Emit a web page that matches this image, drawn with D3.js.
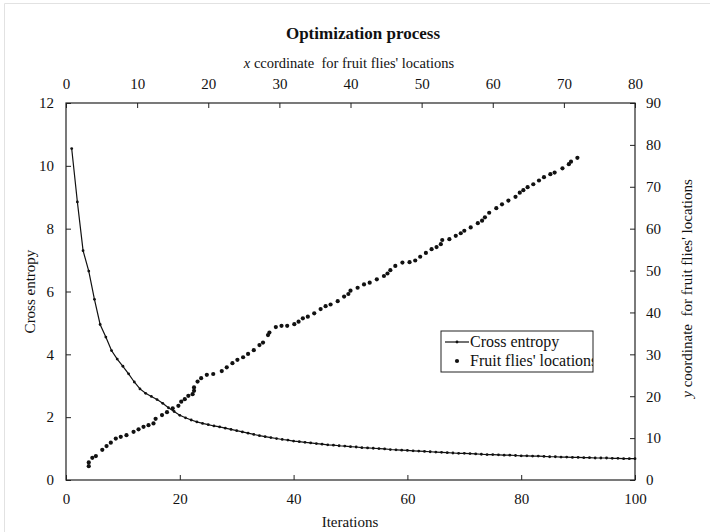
<!DOCTYPE html>
<html>
<head>
<meta charset="utf-8">
<script src="https://cdn.jsdelivr.net/npm/d3@7"></script>
<style>
    body { margin: 0; background: #fff; }
    svg text { font-family: "Liberation Serif", "Times New Roman", serif; fill: #111; }
    .axis text { font-size: 15px; }
    .axis line { stroke: #222; }
    .pre { white-space: pre; }
</style>
</head>
<body>
<svg></svg>
<script>
var margin = { top: 103, right: 75, bottom: 52, left: 66 },
    width = 710 - margin.left - margin.right,
    height = 532 - margin.top - margin.bottom;

// cross entropy per iteration (bottom / left axes)
var iterations = d3.range(1, 101);
var crossEntropy = [
    10.55, 8.85, 7.30, 6.65, 5.75, 4.95, 4.55, 4.12, 3.85, 3.62,
    3.38, 3.12, 2.90, 2.76, 2.66, 2.56, 2.44, 2.30, 2.18, 2.06,
    1.98, 1.91, 1.85, 1.80, 1.76, 1.72, 1.69, 1.65, 1.61, 1.57,
    1.53, 1.49, 1.45, 1.41, 1.38, 1.35, 1.32, 1.29, 1.27, 1.24,
    1.22, 1.20, 1.18, 1.16, 1.14, 1.12, 1.11, 1.09, 1.08, 1.06,
    1.05, 1.03, 1.02, 1.01, 1.00, 0.99, 0.97, 0.96, 0.95, 0.94,
    0.93, 0.92, 0.91, 0.90, 0.89, 0.88, 0.87, 0.86, 0.85, 0.85,
    0.84, 0.83, 0.82, 0.81, 0.81, 0.80, 0.79, 0.79, 0.78, 0.77,
    0.77, 0.76, 0.76, 0.75, 0.74, 0.74, 0.73, 0.73, 0.72, 0.72,
    0.71, 0.71, 0.70, 0.70, 0.70, 0.69, 0.69, 0.68, 0.68, 0.68
];

// fruit flies' locations (top / right axes)
var flyX = [
    3.2, 3.2, 3.7, 4.2, 5.1, 5.7, 6.3, 7.0, 7.7, 8.5,
    9.5, 10.2, 10.9, 11.6, 12.3, 12.6, 13.5, 14.2, 15.0, 15.8,
    16.2, 16.7, 17.2, 17.8, 18.0, 18.0, 18.5, 19.0, 19.8, 20.7,
    21.9, 22.6, 23.4, 24.1, 24.9, 25.6, 26.4, 27.2, 27.7, 28.4,
    28.6, 29.5, 30.3, 31.1, 32.1, 32.7, 33.3, 34.0, 34.9, 35.8,
    36.5, 37.2, 38.2, 39.1, 39.7, 40.0, 41.0, 41.9, 42.7, 43.7,
    44.7, 45.2, 45.6, 46.3, 47.3, 48.3, 49.1, 49.8, 50.6, 51.4,
    52.1, 52.7, 52.9, 53.9, 54.8, 55.5, 56.0, 56.9, 57.9, 58.5,
    58.9, 59.5, 60.5, 61.3, 62.2, 63.2, 63.8, 64.3, 64.9, 65.7,
    66.5, 67.2, 68.1, 68.7, 69.8, 70.7, 71.0, 71.9
];
var flyY = [
    3.3, 4.2, 5.3, 5.7, 7.2, 8.1, 8.9, 9.9, 10.3, 10.7,
    11.5, 12.1, 12.7, 13.1, 13.5, 14.6, 15.5, 16.2, 17.1, 17.7,
    18.7, 19.3, 20.1, 20.5, 21.3, 22.1, 23.5, 24.3, 25.1, 25.3,
    26.0, 26.9, 27.9, 28.7, 29.3, 30.1, 31.0, 32.2, 32.8, 34.6,
    35.2, 36.5, 36.8, 36.8, 37.2, 37.8, 38.6, 39.0, 39.8, 40.8,
    41.5, 41.9, 42.7, 43.8, 44.4, 45.2, 45.9, 46.7, 47.1, 47.9,
    48.7, 49.3, 50.1, 51.1, 51.9, 52.0, 52.4, 53.3, 54.2, 55.1,
    55.6, 56.3, 57.3, 57.5, 58.3, 58.9, 59.5, 60.3, 61.3, 61.9,
    62.7, 63.8, 64.9, 65.8, 66.7, 67.6, 68.6, 69.2, 69.9, 70.6,
    71.5, 72.3, 73.0, 73.4, 74.4, 75.4, 76.0, 76.9
];

var bottomTicks = [0, 20, 40, 60, 80, 100],
    leftTicks = [0, 2, 4, 6, 8, 10, 12],
    topTicks = [0, 10, 20, 30, 40, 50, 60, 70, 80],
    rightTicks = [0, 10, 20, 30, 40, 50, 60, 70, 80, 90];

var root = d3.select("svg")
    .attr("width", 710)
    .attr("height", 532);

// faint frame of the original picture
root.append("path")
    .attr("d", "M4.5,532V3.5H710")
    .style("fill", "none")
    .style("stroke", "#e2e2e2");

var svg = root.append("g")
    .attr("transform", "translate(" + margin.left + "," + margin.top + ")");

var x = d3.scaleLinear().domain([0, 100]).range([0, width]),
    y = d3.scaleLinear().domain([0, 12]).range([height, 0]),
    x2 = d3.scaleLinear().domain([0, 80]).range([0, width]),
    y2 = d3.scaleLinear().domain([0, 90]).range([height, 0]);

svg.append("g")
    .attr("class", "axis axis--x")
    .attr("transform", "translate(0," + height + ")")
    .call(d3.axisBottom(x).tickValues(bottomTicks).tickSizeInner(-5).tickSizeOuter(0).tickPadding(13));

svg.append("g")
    .attr("class", "axis axis--y")
    .call(d3.axisLeft(y).tickValues(leftTicks).tickSizeInner(-5).tickSizeOuter(0).tickPadding(12));

svg.append("g")
    .attr("class", "axis axis--x2")
    .call(d3.axisTop(x2).tickValues(topTicks).tickSizeInner(-5).tickSizeOuter(0).tickPadding(14));

svg.append("g")
    .attr("class", "axis axis--y2")
    .attr("transform", "translate(" + width + ",0)")
    .call(d3.axisRight(y2).tickValues(rightTicks).tickSizeInner(-5).tickSizeOuter(0).tickPadding(11));

svg.selectAll(".axis .domain").remove();

svg.append("rect")
    .attr("width", width)
    .attr("height", height)
    .style("fill", "none")
    .style("stroke", "#222")
    .style("stroke-width", 1.2);

// cross entropy line
var line = d3.line()
    .x(function(d, i) { return x(iterations[i]); })
    .y(function(d) { return y(d); });

svg.append("path")
    .datum(crossEntropy)
    .attr("d", line)
    .style("fill", "none")
    .style("stroke", "#111")
    .style("stroke-width", 1.2);

svg.selectAll(".ce-dot")
    .data(crossEntropy)
    .enter().append("circle")
    .attr("class", "ce-dot")
    .attr("cx", function(d, i) { return x(iterations[i]); })
    .attr("cy", function(d) { return y(d); })
    .attr("r", 1.4)
    .style("fill", "#111");

// fruit flies' locations
svg.selectAll(".fly")
    .data(flyX)
    .enter().append("circle")
    .attr("class", "fly")
    .attr("cx", function(d) { return x2(d); })
    .attr("cy", function(d, i) { return y2(flyY[i]); })
    .attr("r", 2.1)
    .style("fill", "#111");

// titles
root.append("text")
    .attr("x", 363)
    .attr("y", 39)
    .style("text-anchor", "middle")
    .style("font-size", "17px")
    .style("font-weight", "bold")
    .text("Optimization process");

var topLabel = root.append("text")
    .attr("class", "pre")
    .attr("x", 349)
    .attr("y", 68)
    .style("text-anchor", "middle")
    .style("font-size", "14.5px");
topLabel.append("tspan").style("font-style", "italic").text("x");
topLabel.append("tspan").text(" ccordinate  for fruit flies' locations");

root.append("text")
    .attr("x", 350)
    .attr("y", 527)
    .style("text-anchor", "middle")
    .style("font-size", "15px")
    .text("Iterations");

root.append("text")
    .attr("transform", "translate(35," + (margin.top + height / 2) + ") rotate(-90)")
    .style("text-anchor", "middle")
    .style("font-size", "15px")
    .text("Cross entropy");

var rightLabel = root.append("text")
    .attr("class", "pre")
    .attr("transform", "translate(692," + (margin.top + height / 2 - 3) + ") rotate(-90)")
    .style("text-anchor", "middle")
    .style("font-size", "15px");
rightLabel.append("tspan").style("font-style", "italic").text("y");
rightLabel.append("tspan").text(" coordinate  for fruit flies' locations");

// legend
var legend = root.append("g")
    .attr("transform", "translate(441,331)");

legend.append("clipPath")
    .attr("id", "legend-clip")
    .append("rect")
    .attr("width", 152)
    .attr("height", 41);

legend.append("rect")
    .attr("width", 152)
    .attr("height", 41)
    .style("fill", "#fff")
    .style("stroke", "#222");

var items = legend.append("g").attr("clip-path", "url(#legend-clip)");

items.append("line")
    .attr("x1", 4).attr("x2", 28)
    .attr("y1", 11).attr("y2", 11)
    .style("stroke", "#111")
    .style("stroke-width", 1.2);
items.append("circle").attr("cx", 16).attr("cy", 11).attr("r", 1.4).style("fill", "#111");
items.append("text")
    .attr("x", 29).attr("y", 16)
    .style("font-size", "16px")
    .text("Cross entropy");

items.append("circle").attr("cx", 16).attr("cy", 30).attr("r", 2.1).style("fill", "#111");
items.append("text")
    .attr("x", 29).attr("y", 35)
    .style("font-size", "16px")
    .text("Fruit flies' locations");
</script>
</body>
</html>
